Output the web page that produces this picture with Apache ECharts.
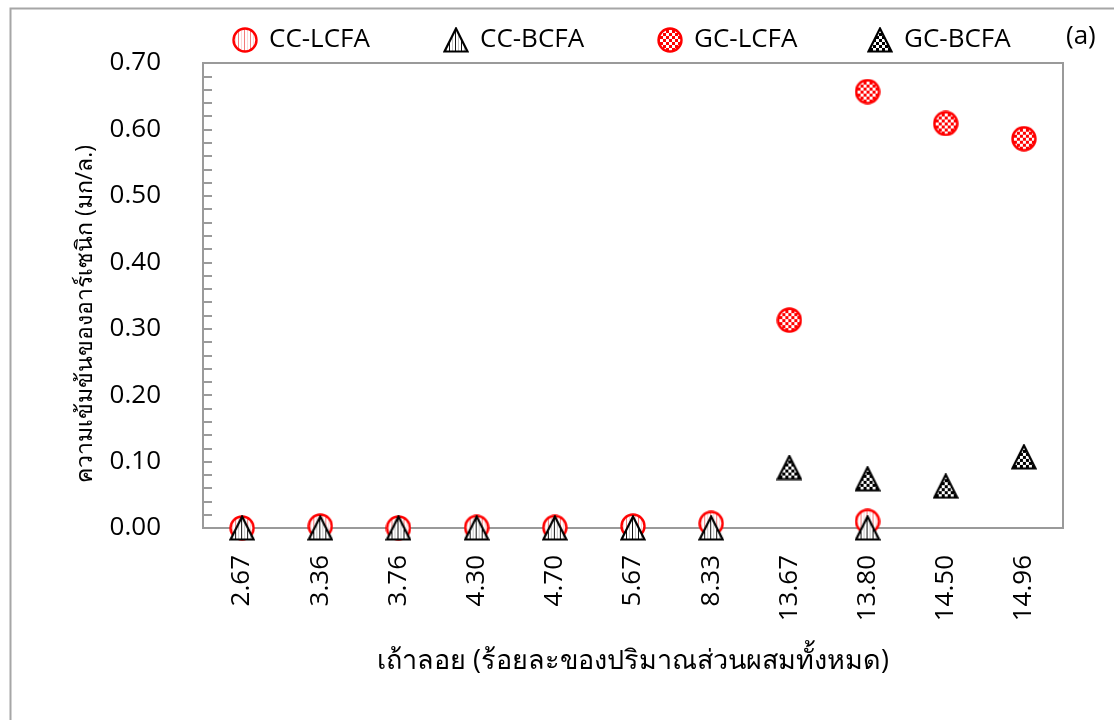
<!DOCTYPE html>
<html>
<head>
<meta charset="utf-8">
<script src="https://cdn.jsdelivr.net/npm/echarts@6/dist/echarts.min.js"></script>
<style>
  html, body { margin: 0; padding: 0; background: #fff; }
  #chart { width: 1114px; height: 720px; }
</style>
</head>
<body>
<div id="chart"></div>
<script>
// Fly ash content (% of total mix) and arsenic concentration (mg/L)
const categories = ['2.67', '3.36', '3.76', '4.30', '4.70', '5.67', '8.33', '13.67', '13.80', '14.50', '14.96'];
const ccLcfa = [0.000, 0.003, 0.000, 0.001, 0.001, 0.003, 0.007, null, 0.010, null, null];
const ccBcfa = [0.000, 0.000, 0.000, 0.000, 0.000, 0.000, 0.000, null, 0.000, null, null];
const gcLcfa = [null, null, null, null, null, null, null, 0.313, 0.657, 0.609, 0.586];
const gcBcfa = [null, null, null, null, null, null, null, 0.091, 0.074, 0.063, 0.107];
const seriesNames = ['CC-LCFA', 'CC-BCFA', 'GC-LCFA', 'GC-BCFA'];
const yAxisTitle = 'ความเข้มข้นของอาร์เซนิก (มก/ล.)';
const xAxisTitle = 'เถ้าลอย (ร้อยละของปริมาณส่วนผสมทั้งหมด)';
const panelTag = '(a)';

const FONT = "'Open Sans', 'Noto Sans', 'DejaVu Sans', sans-serif";
const AXIS_GREY = '#9a9a9a';

// Repeating fills used inside the markers
function makeTile(w, h, draw) {
  const c = document.createElement('canvas');
  c.width = w; c.height = h;
  const ctx = c.getContext('2d');
  ctx.fillStyle = '#ffffff';
  ctx.fillRect(0, 0, w, h);
  draw(ctx);
  return c;
}
const redStripes = makeTile(6, 4, ctx => {
  ctx.fillStyle = '#f27a7a'; ctx.fillRect(0, 0, 1, 4);
  ctx.fillStyle = '#fcd6d6'; ctx.fillRect(3, 0, 1, 4);
});
const blackStripes = makeTile(6, 4, ctx => {
  ctx.fillStyle = '#111111'; ctx.fillRect(0, 0, 1, 4);
  ctx.fillStyle = '#c4c4c4'; ctx.fillRect(3, 0, 1, 4);
});
const redChecker = makeTile(6, 6, ctx => {
  ctx.fillStyle = '#ff0000';
  ctx.fillRect(0, 0, 3, 3); ctx.fillRect(3, 3, 3, 3);
});
const blackChecker = makeTile(6, 6, ctx => {
  ctx.fillStyle = '#000000';
  ctx.fillRect(0, 0, 3, 3); ctx.fillRect(3, 3, 3, 3);
});

// Marker glyphs (outlined shape with a patterned fill), used as image symbols
const MARK = 26;
function makeMarker(shape, tile, stroke) {
  const c = document.createElement('canvas');
  c.width = MARK; c.height = MARK;
  const ctx = c.getContext('2d');
  ctx.beginPath();
  if (shape === 'circle') {
    ctx.arc(MARK / 2, MARK / 2, 11.5, 0, Math.PI * 2);
  } else {
    ctx.moveTo(MARK / 2, 1.5);
    ctx.lineTo(MARK - 1.5, MARK - 1.5);
    ctx.lineTo(1.5, MARK - 1.5);
    ctx.closePath();
  }
  ctx.fillStyle = ctx.createPattern(tile, 'repeat');
  ctx.fill();
  ctx.lineWidth = shape === 'circle' ? 2.4 : 2.2;
  ctx.lineJoin = 'miter';
  ctx.strokeStyle = stroke;
  ctx.stroke();
  return 'image://' + c.toDataURL('image/png');
}
const markerSymbols = [
  makeMarker('circle', redStripes, '#ff0000'),
  makeMarker('triangle', blackStripes, '#000000'),
  makeMarker('circle', redChecker, '#ff0000'),
  makeMarker('triangle', blackChecker, '#000000')
];
const seriesData = [ccLcfa, ccBcfa, gcLcfa, gcBcfa];

const chart = echarts.init(document.getElementById('chart'), null, { renderer: 'canvas' });

const legendLefts = [232, 443, 657, 867];

const option = {
  backgroundColor: '#ffffff',
  animation: false,
  textStyle: { fontFamily: FONT },
  grid: {
    left: 203, top: 63, right: 51, bottom: 192,
    show: true, borderColor: AXIS_GREY, borderWidth: 2, backgroundColor: 'transparent'
  },
  legend: seriesNames.map((name, i) => ({
    data: [{ name, icon: markerSymbols[i] }],
    left: legendLefts[i],
    top: 27,
    padding: 0,
    itemWidth: MARK,
    itemHeight: MARK,
    selectedMode: false,
    textStyle: { fontSize: 26, color: '#000', fontFamily: FONT, padding: [0, 0, 0, 6] }
  })),
  xAxis: {
    type: 'category',
    data: categories,
    boundaryGap: true,
    axisLine: { show: true, lineStyle: { color: AXIS_GREY, width: 2 } },
    axisTick: { show: false },
    axisLabel: { rotate: 90, margin: 27, fontSize: 26, color: '#000', fontFamily: FONT },
    splitLine: { show: false },
    name: xAxisTitle,
    nameLocation: 'middle',
    nameGap: 120,
    nameTextStyle: { fontSize: 27, color: '#000', fontFamily: FONT }
  },
  yAxis: {
    type: 'value',
    min: 0, max: 0.7, interval: 0.1,
    axisLine: { show: true, lineStyle: { color: AXIS_GREY, width: 2 } },
    axisTick: { show: true, inside: true, length: 9, lineStyle: { color: AXIS_GREY, width: 2 } },
    minorTick: { show: true, splitNumber: 5, length: 9, lineStyle: { color: AXIS_GREY, width: 2 } },
    axisLabel: { margin: 42, fontSize: 26, color: '#000', fontFamily: FONT, formatter: v => v.toFixed(2) },
    splitLine: { show: false }
  },
  series: seriesNames.map((name, i) => ({
    name,
    type: 'scatter',
    data: seriesData[i],
    symbol: markerSymbols[i],
    symbolSize: MARK,
    itemStyle: { opacity: 1 },
    emphasis: { disabled: true },
    z: 2 + i
  })),
  graphic: [
    {
      type: 'rect',
      left: 8, top: 6,
      shape: { x: 0, y: 0, width: 1120, height: 730 },
      style: { fill: 'none', stroke: '#a6a6a6', lineWidth: 2 },
      silent: true
    },
    {
      type: 'text',
      left: 1066, top: 24,
      style: { text: panelTag, fontSize: 26, fill: '#000', fontFamily: FONT },
      silent: true
    },
    {
      // vertical axis title
      type: 'text',
      x: 85, y: 314,
      rotation: Math.PI / 2,
      style: {
        text: yAxisTitle, fontSize: 23, fill: '#000', fontFamily: FONT,
        align: 'center', verticalAlign: 'middle'
      },
      silent: true
    }
  ]
};

chart.setOption(option);
</script>
</body>
</html>
